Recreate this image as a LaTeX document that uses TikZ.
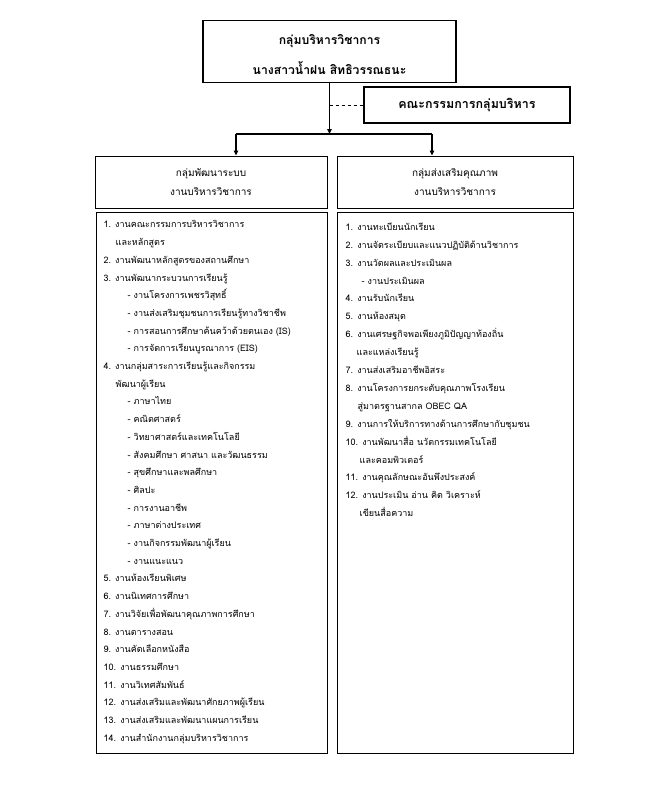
\documentclass[tikz,border=0pt]{standalone}
\usepackage{fontspec}
\setmainfont[Script=Thai]{Loma}
\usetikzlibrary{arrows.meta,positioning,calc}
\tikzset{
  orgbox/.style={
    draw=black, line width=0.9pt, align=center, inner sep=0pt
  },
  headbox/.style={orgbox, line width=1.6pt,
    font=\fontsize{12.2}{30}\selectfont\bfseries},
  boardbox/.style={orgbox, line width=1.5pt,
    font=\fontsize{12.5}{15}\selectfont\bfseries},
  grpbox/.style={orgbox, font=\fontsize{10}{19}\selectfont},
  listbox/.style={orgbox, line width=1pt},
  listtxt/.style={anchor=north west, align=left, inner sep=0pt,
    font=\fontsize{9}{17.7}\selectfont},
  listtxtr/.style={listtxt, font=\fontsize{9}{17.9}\selectfont},
  arr/.style={-{Triangle[length=5pt,width=4.5pt]}, line width=1.3pt},
  link/.style={line width=1.3pt},
  dashlink/.style={line width=0.9pt, dashed}
}
\begin{document}
\begin{tikzpicture}[x=1pt, y=-1pt]
  \useasboundingbox (0,0) rectangle (650,800);
  % head and committee
  \node[headbox, minimum width=253pt, minimum height=62pt] (head) at (329.5,51.5)
    {\raisebox{-3pt}[\height][\depth]{กลุ่มบริหารวิชาการ}\\
     \raisebox{-3pt}[\height][\depth]{นางสาวน้ำฝน สิทธิวรรณธนะ}};
  \node[boardbox, minimum width=206pt, minimum height=36pt] (board) at (467,105)
    {คณะกรรมการกลุ่มบริหาร};
  % the two groups
  \node[grpbox, minimum width=232pt, minimum height=52pt] (sys) at (211,182)
    {กลุ่มพัฒนาระบบ\\งานบริหารวิชาการ};
  \node[grpbox, minimum width=236pt, minimum height=52pt] (qual) at (455,182)
    {กลุ่มส่งเสริมคุณภาพ\\งานบริหารวิชาการ};
  \node[listbox, minimum width=231pt, minimum height=541pt] (syslist) at (211.5,482.5) {};
  \node[listbox, minimum width=236pt, minimum height=541pt] (quallist) at (455,482.5) {};
  % connectors
  \coordinate (splitL) at (236,134);
  \coordinate (splitR) at (432,134);
  \draw[arr] (head.south) -- (head.south |- splitL);
  \draw[dashlink] (head.south |- board.west) -- (board.west);
  \draw[link] (splitL) -- (splitR);
  \draw[arr] (splitL) -- (splitL |- sys.north);
  \draw[arr] (splitR) -- (splitR |- qual.north);
  % left list
  \node[listtxt] (systxt) at ($(syslist.north west)+(8,9)$) {%
    1. งานคณะกรรมการบริหารวิชาการ\\
    \hspace*{12pt}และหลักสูตร\\
    2. งานพัฒนาหลักสูตรของสถานศึกษา\\
    3. งานพัฒนากระบวนการเรียนรู้\\
    \hspace*{24pt}- งานโครงการเพชรวิสุทธิ์\\
    \hspace*{24pt}- งานส่งเสริมชุมชนการเรียนรู้ทางวิชาชีพ\\
    \hspace*{24pt}- การสอนการศึกษาค้นคว้าด้วยตนเอง (IS)\\
    \hspace*{24pt}- การจัดการเรียนบูรณาการ (EIS)\\
    4. งานกลุ่มสาระการเรียนรู้และกิจกรรม\\
    \hspace*{12pt}พัฒนาผู้เรียน\\
    \hspace*{24pt}- ภาษาไทย\\
    \hspace*{24pt}- คณิตศาสตร์\\
    \hspace*{24pt}- วิทยาศาสตร์และเทคโนโลยี\\
    \hspace*{24pt}- สังคมศึกษา ศาสนา และวัฒนธรรม\\
    \hspace*{24pt}- สุขศึกษาและพลศึกษา\\
    \hspace*{24pt}- ศิลปะ\\
    \hspace*{24pt}- การงานอาชีพ\\
    \hspace*{24pt}- ภาษาต่างประเทศ\\
    \hspace*{24pt}- งานกิจกรรมพัฒนาผู้เรียน\\
    \hspace*{24pt}- งานแนะแนว\\
    5. งานห้องเรียนพิเศษ\\
    6. งานนิเทศการศึกษา\\
    7. งานวิจัยเพื่อพัฒนาคุณภาพการศึกษา\\
    8. งานตารางสอน\\
    9. งานคัดเลือกหนังสือ\\
    10. งานธรรมศึกษา\\
    11. งานวิเทศสัมพันธ์\\
    12. งานส่งเสริมและพัฒนาศักยภาพผู้เรียน\\
    13. งานส่งเสริมและพัฒนาแผนการเรียน\\
    14. งานสำนักงานกลุ่มบริหารวิชาการ};
  % right list
  \node[listtxtr] (qualtxt) at ($(quallist.north west)+(9,11)$) {%
    1. งานทะเบียนนักเรียน\\
    2. งานจัดระเบียบและแนวปฏิบัติด้านวิชาการ\\
    3. งานวัดผลและประเมินผล\\
    \hspace*{16pt}- งานประเมินผล\\
    4. งานรับนักเรียน\\
    5. งานห้องสมุด\\
    6. งานเศรษฐกิจพอเพียงภูมิปัญญาท้องถิ่น\\
    \hspace*{11pt}และแหล่งเรียนรู้\\
    7. งานส่งเสริมอาชีพอิสระ\\
    8. งานโครงการยกระดับคุณภาพโรงเรียน\\
    \hspace*{12pt}สู่มาตรฐานสากล OBEC QA\\
    9. งานการให้บริการทางด้านการศึกษากับชุมชน\\
    10. งานพัฒนาสื่อ นวัตกรรมเทคโนโลยี\\
    \hspace*{14pt}และคอมพิวเตอร์\\
    11. งานคุณลักษณะอันพึงประสงค์\\
    12. งานประเมิน อ่าน คิด วิเคราะห์\\
    \hspace*{14pt}เขียนสื่อความ};
\end{tikzpicture}
\end{document}
